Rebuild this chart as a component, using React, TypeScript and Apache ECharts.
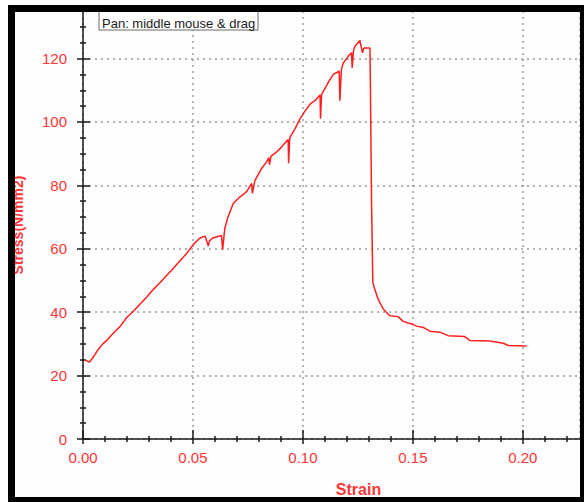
import React, { useEffect, useRef } from "react";
import * as echarts from "echarts";

const strain = [
  0.001, 0.003, 0.005, 0.007, 0.009, 0.011, 0.013, 0.015, 0.017, 0.02,
  0.023, 0.026, 0.029, 0.032, 0.035, 0.038, 0.041, 0.0441, 0.047, 0.0501,
  0.0532, 0.0555, 0.057, 0.0575, 0.059, 0.061, 0.063, 0.0635, 0.0645, 0.066,
  0.0683, 0.0714, 0.0744, 0.0767, 0.077, 0.0782, 0.0812, 0.0835, 0.0845, 0.0848,
  0.0855, 0.088, 0.0895, 0.092, 0.0933, 0.0935, 0.094, 0.0965, 0.0986, 0.101,
  0.1035, 0.1055, 0.1078, 0.108, 0.1085, 0.1115, 0.1138, 0.1165, 0.1168, 0.1175,
  0.1183, 0.1206, 0.1221, 0.1224, 0.123, 0.1236, 0.1259, 0.1271, 0.1277, 0.1305,
  0.1307, 0.1312, 0.1315, 0.1318, 0.1327, 0.1342, 0.1365, 0.1395, 0.1433, 0.1456,
  0.1494, 0.1517, 0.1547, 0.1577, 0.1623, 0.166, 0.1736, 0.1759, 0.185, 0.1911,
  0.1934, 0.2017,
];
const stress = [
  24.8, 24.3, 26.2, 28.3, 30.0, 31.2, 32.8, 34.2, 35.6, 38.4,
  40.4, 42.6, 44.8, 47.2, 49.3, 51.6, 53.8, 56.2, 58.4, 61.3,
  63.4, 64.0, 60.9, 62.5, 63.4, 63.8, 64.2, 59.7, 66.5, 70.2,
  74.3, 76.4, 78.0, 80.6, 77.5, 81.6, 85.3, 87.4, 88.8, 86.5,
  89.2, 90.5, 91.5, 93.5, 94.5, 87.0, 95.0, 98.0, 100.9, 103.5,
  105.8, 106.7, 108.5, 101.0, 108.7, 112.4, 115.0, 116.0, 106.7, 116.5,
  118.5, 120.7, 121.8, 117.0, 122.5, 123.8, 125.7, 121.8, 123.3, 123.3,
  111.0, 75.0, 61.8, 49.3, 47.2, 44.1, 41.0, 38.9, 38.6, 37.1,
  36.3, 35.6, 35.2, 34.0, 33.7, 32.6, 32.3, 31.1, 30.9, 30.2,
  29.5, 29.3,
];

const xMajorTicks = [0, 0.05, 0.1, 0.15, 0.2];
const xMinorTicks = [
  0.01, 0.02, 0.03, 0.04, 0.06, 0.07, 0.08, 0.09, 0.11, 0.12, 0.13, 0.14,
  0.16, 0.17, 0.18, 0.19, 0.21, 0.22,
];
const yMajorTicks = [0, 20, 40, 60, 80, 100, 120];
const yMinorTicks = [
  5, 10, 15, 25, 30, 35, 45, 50, 55, 65, 70, 75, 85, 90, 95, 105, 110, 115,
  125, 130,
];

const X_MAX = 0.226;
const Y_MAX = 135;
const RED = "#ff3636";
const AXIS = "#1a1a1a";
const FONT = "Liberation Sans, Arial, sans-serif";

export default function App() {
  const ref = useRef<HTMLDivElement>(null);

  useEffect(() => {
    if (!ref.current) return;
    const chart = echarts.init(ref.current, undefined, { renderer: "svg" });
    const data = strain.map((s, i) => [s, stress[i]]);

    const hiddenX = (vals: number[], len: number, off: number) => ({
      type: "value",
      min: 0,
      max: X_MAX,
      position: "bottom",
      offset: off,
      axisLine: { show: false, onZero: false },
      axisLabel: { show: false },
      splitLine: { show: false },
      axisTick: {
        show: true,
        inside: false,
        length: len,
        customValues: vals,
        lineStyle: { color: AXIS, width: 1.5 },
      },
    });
    const hiddenY = (vals: number[], len: number, off: number) => ({
      type: "value",
      min: 0,
      max: Y_MAX,
      position: "left",
      offset: off,
      axisLine: { show: false, onZero: false },
      axisLabel: { show: false },
      splitLine: { show: false },
      axisTick: {
        show: true,
        inside: false,
        length: len,
        customValues: vals,
        lineStyle: { color: AXIS, width: 1.5 },
      },
    });

    chart.setOption({
      animation: false,
      backgroundColor: "#ffffff",
      grid: { left: 83, right: 4, top: 11, bottom: 59, containLabel: false },
      graphic: [
        {
          type: "rect",
          z: -100,
          shape: { x: 15, y: 12, width: 565, height: 485 },
          style: { fill: "#fdfdfd" },
        },
        {
          type: "rect",
          z: 90,
          shape: { x: 99, y: 6, width: 159, height: 24 },
          style: { fill: "#ffffff", stroke: "#6a6a6a", lineWidth: 1 },
        },
        {
          type: "text",
          z: 91,
          x: 102,
          y: 23,
          style: {
            text: "Pan: middle mouse & drag",
            fill: "#1a1a1a",
            font: "13px " + FONT,
            textVerticalAlign: "middle",
            verticalAlign: "middle",
          },
        },
        { type: "rect", z: 100, shape: { x: 8, y: 5, width: 576, height: 7 }, style: { fill: "#000" } },
        { type: "rect", z: 100, shape: { x: 8, y: 5, width: 7, height: 497 }, style: { fill: "#000" } },
        { type: "rect", z: 100, shape: { x: 580, y: 5, width: 4, height: 497 }, style: { fill: "#000" } },
        { type: "rect", z: 100, shape: { x: 8, y: 497, width: 576, height: 5 }, style: { fill: "#000" } },
      ],
      xAxis: [
        {
          type: "value",
          min: 0,
          max: X_MAX,
          interval: 0.05,
          position: "bottom",
          name: "Strain",
          nameLocation: "middle",
          nameGap: 42,
          nameTextStyle: {
            color: RED,
            fontFamily: FONT,
            fontSize: 16,
            fontWeight: "bold",
            padding: [0, 0, 0, 54],
          },
          axisLine: { show: true, onZero: false, lineStyle: { color: AXIS, width: 1.5 } },
          axisTick: { show: false },
          axisLabel: {
            color: RED,
            fontFamily: FONT,
            fontSize: 15,
            margin: 11,
            customValues: xMajorTicks,
            formatter: (v: number) => v.toFixed(2),
          },
          splitLine: {
            show: true,
            lineStyle: { color: "#9a9a9a", width: 1.5, type: [2, 4] },
          },
        },
        hiddenX(xMajorTicks, 14, -9),
        hiddenX(xMinorTicks, 6, -3),
      ],
      yAxis: [
        {
          type: "value",
          min: 0,
          max: Y_MAX,
          interval: 20,
          position: "left",
          name: "Stress(N/mm2)",
          nameLocation: "middle",
          nameGap: 58,
          nameTextStyle: {
            color: RED,
            fontFamily: FONT,
            fontSize: 14,
            fontWeight: "bold",
          },
          axisLine: { show: true, onZero: false, lineStyle: { color: AXIS, width: 1.5 } },
          axisTick: { show: false },
          axisLabel: {
            color: RED,
            fontFamily: FONT,
            fontSize: 15,
            margin: 16,
            customValues: yMajorTicks,
          },
          splitLine: {
            show: true,
            lineStyle: { color: "#9a9a9a", width: 1.5, type: [2, 4] },
          },
        },
        hiddenY(yMajorTicks, 13, -7),
        hiddenY(yMinorTicks, 6, -3),
      ],
      series: [
        {
          type: "line",
          xAxisIndex: 0,
          yAxisIndex: 0,
          data,
          showSymbol: false,
          symbol: "none",
          lineStyle: { color: "#ff1f1f", width: 1.5 },
          z: 5,
        },
      ],
    });

    return () => chart.dispose();
  }, []);

  return (
    <div
      ref={ref}
      style={{ position: "fixed", left: 0, top: 0, width: 584, height: 502 }}
    />
  );
}
